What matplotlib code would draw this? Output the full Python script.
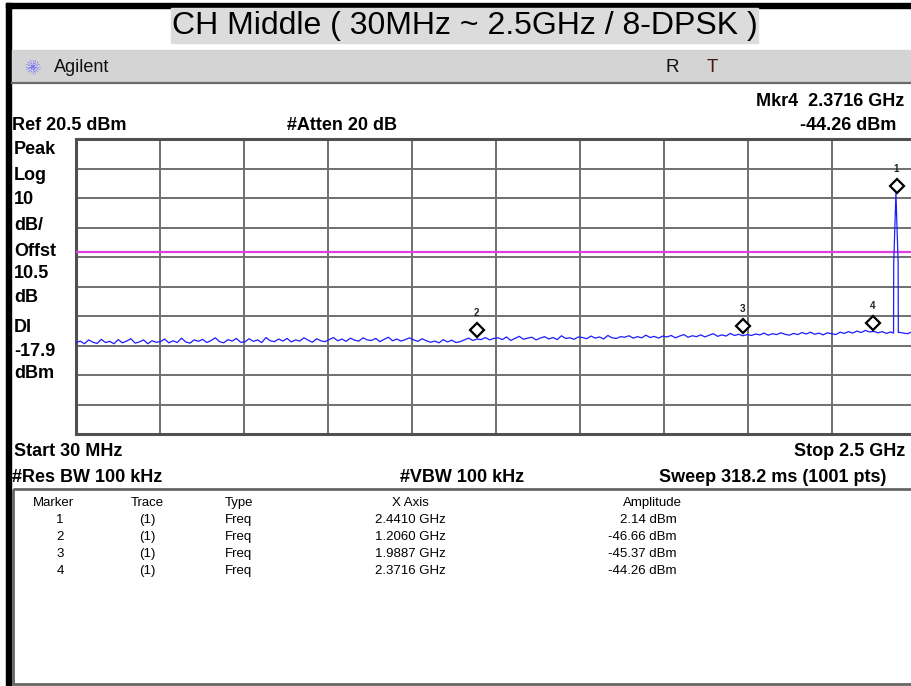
import numpy as np
import matplotlib
matplotlib.use('Agg')
import matplotlib.pyplot as plt
import matplotlib.transforms as mtransforms
from matplotlib.patches import Rectangle

plt.rcParams['font.family'] = ['Liberation Sans', 'DejaVu Sans']

# ------------------------------------------------------------
# data
# ------------------------------------------------------------
start_ghz = 0.03
stop_ghz = 2.5
ref_dbm = 20.5
db_per_div = 10
display_line_dbm = -17.9

# noise floor of the sweep (evenly spaced over the span)
noise_dbm = [
    -48.6, -48.0, -48.9, -47.6, -48.4, -48.8, -47.4, -48.5, -48.1, -48.9,
    -47.5, -48.6, -48.0, -47.2, -48.7, -48.3, -47.6, -48.9, -47.9, -48.4,
    -48.2, -47.3, -48.6, -47.9, -48.5, -47.0, -48.3, -48.7, -47.6, -48.1,
    -47.4, -48.5, -47.8, -46.9, -48.2, -48.6, -47.5, -48.0, -47.1, -48.4,
    -48.3, -47.2, -48.1, -47.6, -48.5, -46.8, -47.9, -48.2, -47.3, -48.0,
    -47.1, -48.3, -47.6, -48.0, -46.9, -47.7, -48.4, -47.2, -47.9, -48.2,
    -47.5, -46.8, -47.9, -47.3, -48.1, -47.0, -47.7, -48.0, -46.9, -47.6,
    -47.8, -47.1, -48.2, -47.4, -46.7, -47.9, -47.3, -48.0, -47.5, -46.9,
    -47.6, -48.1, -47.2, -47.9, -48.4, -48.0, -48.6, -47.5, -48.3, -47.7,
    -48.5, -48.2, -47.6, -47.0, -47.8, -47.3, -47.5, -46.8, -47.6, -47.1,
    -46.9, -47.5, -46.6, -47.8, -47.1, -46.4, -47.4, -47.0, -46.7, -47.6,
    -47.0, -46.5, -47.3, -46.8, -47.5, -46.2, -47.1, -46.9, -47.4, -46.6,
    -46.8, -47.2, -46.3, -47.0, -46.6, -47.3, -46.1, -46.9, -47.1, -46.5,
    -46.7, -46.2, -47.0, -46.5, -46.9, -46.0, -46.8, -46.4, -47.0, -46.3,
    -46.6, -46.1, -46.9, -46.3, -45.8, -46.7, -46.2, -46.5, -45.9, -46.6,
    -46.0, -45.5, -46.4, -45.9, -46.3, -45.4, -46.1, -45.7, -46.2, -45.8,
    -46.1, -45.6, -45.9, -45.3, -46.0, -45.5, -45.8, -45.2, -45.7, -46.0,
    -45.4, -45.8, -45.1, -45.6, -45.0, -45.7, -45.3, -45.9, -45.2, -45.5,
    -45.8, -45.0, -45.4, -44.8, -45.3, -44.6, -45.1, -44.4, -44.9, -44.7,
    -45.2, -44.8, -45.4, -44.9, -45.6, -45.0, -45.3, -45.5, -44.9, -45.2,
]

# the carrier spike at 2.441 GHz
carrier_ghz = [2.4340, 2.4345, 2.4410, 2.4475, 2.4480]
carrier_dbm = [-45.3, -21.5, 2.14, -21.5, -45.1]

marker_ids = ['1', '2', '3', '4']
marker_trace = ['(1)', '(1)', '(1)', '(1)']
marker_type = ['Freq', 'Freq', 'Freq', 'Freq']
marker_ghz = [2.4410, 1.2060, 1.9887, 2.3716]
marker_dbm = [2.14, -46.66, -45.37, -44.26]
marker_x_text = ['2.4410 GHz', '1.2060 GHz', '1.9887 GHz', '2.3716 GHz']
marker_amp_text = ['2.14 dBm', '-46.66 dBm', '-45.37 dBm', '-44.26 dBm']

side_labels = ['Peak', 'Log', '10', 'dB/', 'Offst', '10.5', 'dB', 'DI', '-17.9', 'dBm']
side_label_y = [150, 176, 200, 225, 251, 274, 297, 328, 351, 373]

# ------------------------------------------------------------
# trace assembly
# ------------------------------------------------------------
noise_ghz = np.linspace(start_ghz, stop_ghz, len(noise_dbm))
keep = (noise_ghz < carrier_ghz[0]) | (noise_ghz > carrier_ghz[-1])
trace_ghz = np.concatenate([noise_ghz[keep], carrier_ghz])
trace_dbm = np.concatenate([np.array(noise_dbm)[keep], carrier_dbm])
order = np.argsort(trace_ghz)
trace_ghz = trace_ghz[order]
trace_dbm = trace_dbm[order]

# ------------------------------------------------------------
# figure, pixel overlay for the instrument chrome
# ------------------------------------------------------------
W, H = 912, 686
fig = plt.figure(figsize=(W / 100, H / 100), dpi=100)
fig.patch.set_facecolor('white')

ov = fig.add_axes([0, 0, 1, 1], zorder=0)
ov.set_xlim(0, W)
ov.set_ylim(H, 0)
ov.axis('off')

# black frame bits
ov.add_patch(Rectangle((6, 3), 5, H, color='black'))
ov.add_patch(Rectangle((6, 3), W, 5, color='black'))

# title
ov.add_patch(Rectangle((171, 8), 587, 35, color='#dcdcdc'))
ov.text(465, 26, 'CH Middle ( 30MHz ~ 2.5GHz / 8-DPSK )', fontsize=23,
        ha='center', va='center', color='black')

# Agilent bar
ov.add_patch(Rectangle((12, 50), W, 32, color='#d4d4d4'))
ov.plot([12, W], [83, 83], color='#6a6a6a', lw=1.6)
for ang in np.arange(0, 180, 22.5):
    dx = 7 * np.cos(np.radians(ang))
    dy = 7 * np.sin(np.radians(ang))
    ov.plot([33 - dx, 33 + dx], [67 - dy, 67 + dy], color='#6f6fff', lw=0.8, ls=(0, (1, 1)))
ov.text(54, 67, 'Agilent', fontsize=13, ha='left', va='center', color='#101010')
ov.text(672, 68, 'R', fontsize=13.5, ha='center', va='center', color='#101010')
ov.text(712, 68, 'T', fontsize=13.5, ha='center', va='center', color='#4a1414')

bold = dict(fontsize=13, fontweight='bold', color='black', va='center')
ov.text(904, 101, 'Mkr4  2.3716 GHz', ha='right', **bold)
ov.text(896, 126, '-44.26 dBm', ha='right', **bold)
ov.text(12, 126, 'Ref 20.5 dBm', ha='left', **bold)
ov.text(287, 126, '#Atten 20 dB', ha='left', **bold)
for lab, yy in zip(side_labels, side_label_y):
    ov.text(14, yy, lab, ha='left', **bold)

ov.text(14, 452, 'Start 30 MHz', ha='left', **bold)
ov.text(905, 452, 'Stop 2.5 GHz', ha='right', **bold)
ov.text(12, 477, '#Res BW 100 kHz', ha='left', **bold)
ov.text(462, 477, '#VBW 100 kHz', ha='center', **bold)
ov.text(886, 477, 'Sweep 318.2 ms (1001 pts)', ha='right', **bold)

# marker table
ov.add_patch(Rectangle((13, 489), W, 195, fill=False, ec='#666666', lw=2))
small = dict(fontsize=9.5, color='black', va='center')
ov.text(53, 503, 'Marker', ha='center', **small)
ov.text(147, 503, 'Trace', ha='center', **small)
ov.text(225, 503, 'Type', ha='left', **small)
ov.text(410, 503, 'X Axis', ha='center', **small)
ov.text(652, 503, 'Amplitude', ha='center', **small)
for i in range(len(marker_ids)):
    yy = 520 + 17 * i
    ov.text(60, yy, marker_ids[i], ha='center', **small)
    ov.text(147, yy, marker_trace[i], ha='center', **small)
    ov.text(225, yy, marker_type[i], ha='left', **small)
    ov.text(410, yy, marker_x_text[i], ha='center', **small)
    ov.text(677, yy, marker_amp_text[i], ha='right', **small)

# ------------------------------------------------------------
# sweep graticule
# ------------------------------------------------------------
ax = fig.add_axes([76 / W, 1 - 434 / H, 840 / W, 295 / H], zorder=1)
ax.set_xlim(start_ghz, stop_ghz)
ax.set_ylim(ref_dbm - 10 * db_per_div, ref_dbm)
ax.set_xticks(np.linspace(start_ghz, stop_ghz, 11))
ax.set_yticks(np.arange(ref_dbm - 10 * db_per_div, ref_dbm + 1, db_per_div))
ax.grid(True, color='#707070', lw=1.4)
ax.tick_params(length=0, labelbottom=False, labelleft=False)
for s in ax.spines.values():
    s.set_color('#505050')
    s.set_linewidth(2.2)

ax.axhline(display_line_dbm, color='#e040e0', lw=1.6, zorder=3)
ax.plot(trace_ghz, trace_dbm, color='#1c1cff', lw=0.9, zorder=4)

diamond_tf = mtransforms.offset_copy(ax.transData, fig=fig, x=1, y=7, units='dots')
label_tf = mtransforms.offset_copy(ax.transData, fig=fig, x=0, y=24, units='dots')
ax.plot(marker_ghz, marker_dbm, ls='none', marker='D', ms=7.5, mfc='white',
        mec='black', mew=1.6, transform=diamond_tf, zorder=5, clip_on=False)
for mid, fx, fy in zip(marker_ids, marker_ghz, marker_dbm):
    ax.text(fx, fy, mid, transform=label_tf, fontsize=7, fontweight='bold',
            ha='center', va='center', color='#202020', zorder=5)

fig.savefig('out.png', dpi=100, facecolor='white')
